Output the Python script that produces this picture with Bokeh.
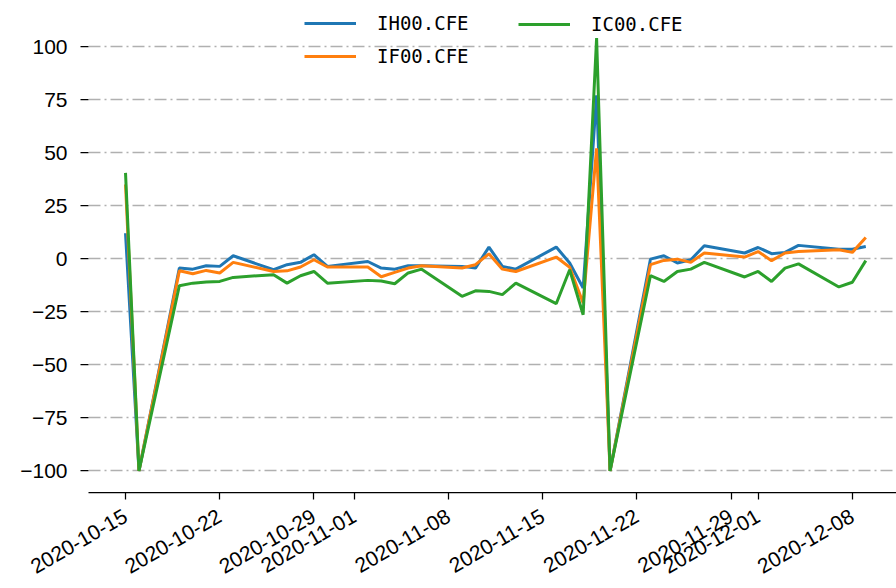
import math
import pandas as pd
from bokeh.plotting import figure
from bokeh.models import (ColumnDataSource, Range1d, FixedTicker, DatetimeTickFormatter,
                          Legend, LegendItem)
from bokeh.embed import file_html
from bokeh.resources import INLINE

# ---------------- data ----------------
dates = ["2020-10-15", "2020-10-16", "2020-10-19", "2020-10-20", "2020-10-21", "2020-10-22",
         "2020-10-23", "2020-10-26", "2020-10-27", "2020-10-28", "2020-10-29", "2020-10-30",
         "2020-11-02", "2020-11-03", "2020-11-04", "2020-11-05", "2020-11-06", "2020-11-09",
         "2020-11-10", "2020-11-11", "2020-11-12", "2020-11-13", "2020-11-16", "2020-11-17",
         "2020-11-18", "2020-11-19", "2020-11-20", "2020-11-23", "2020-11-24", "2020-11-25",
         "2020-11-26", "2020-11-27", "2020-11-30", "2020-12-01", "2020-12-02", "2020-12-03",
         "2020-12-04", "2020-12-07", "2020-12-08", "2020-12-09"]

ih00 = [12.0, -100.0, -4.4, -4.9, -3.3, -3.6, 1.4, -5.2, -2.8, -1.7, 1.9, -3.6,
        -1.3, -4.4, -4.9, -3.3, -3.3, -3.6, -4.4, 5.5, -3.6, -4.9, 5.5, -2.0,
        -13.8, 77.0, -100.0, -0.2, 1.4, -2.0, -0.5, 6.1, 2.7, 5.3, 2.4, 3.0,
        6.3, 4.5, 4.5, 5.8]

if00 = [35.0, -100.0, -5.7, -7.1, -5.5, -6.7, -1.7, -6.0, -5.7, -3.9, -0.5, -3.9,
        -3.9, -8.5, -6.4, -4.4, -3.3, -4.4, -2.8, 2.3, -4.9, -6.0, 0.8, -4.0,
        -20.9, 52.0, -100.0, -2.8, -0.8, -0.2, -1.7, 2.7, 0.8, 3.4, -0.9, 2.7,
        3.4, 4.2, 3.0, 10.0]

ic00 = [40.5, -100.0, -12.7, -11.5, -11.0, -10.7, -8.8, -7.5, -11.5, -8.0, -6.0, -11.5,
        -10.2, -10.5, -11.8, -6.7, -4.9, -17.7, -15.1, -15.4, -16.9, -11.5, -21.2, -5.2,
        -26.4, 104.0, -100.0, -8.0, -10.7, -6.0, -4.9, -1.7, -8.6, -6.0, -10.7, -4.4,
        -2.4, -13.3, -11.1, -0.9]

series_names = ["IH00.CFE", "IF00.CFE", "IC00.CFE"]

x_tick_dates = ["2020-10-15", "2020-10-22", "2020-10-29", "2020-11-01", "2020-11-08",
                "2020-11-15", "2020-11-22", "2020-11-29", "2020-12-01", "2020-12-08"]

y_ticks = [-100, -75, -50, -25, 0, 25, 50, 75, 100]
y_tick_labels = ["\u2212100", "\u221275", "\u221250", "\u221225", "0", "25", "50", "75", "100"]

# ---------------- figure ----------------
x = pd.to_datetime(dates)
source = ColumnDataSource(dict(date=x, ih=ih00, iff=if00, ic=ic00))

x_start = pd.Timestamp("2020-10-12 06:00")
x_end = pd.Timestamp("2020-12-11 06:45")

p = figure(width=896, height=588, x_axis_type="datetime",
           output_backend="svg", toolbar_location=None,
           x_range=Range1d(x_start, x_end), y_range=Range1d(-110.2, 121.74),
           min_border_left=88, min_border_right=0, min_border_top=0, min_border_bottom=96)
p.outline_line_color = None
p.background_fill_color = "white"
p.border_fill_color = "white"

colors = ["#1f77b4", "#ff7f0e", "#2ca02c"]
r1 = p.line(x="date", y="ih", source=source, line_color=colors[0], line_width=3)
r2 = p.line(x="date", y="iff", source=source, line_color=colors[1], line_width=3)
r3 = p.line(x="date", y="ic", source=source, line_color=colors[2], line_width=3)

# grid
p.xgrid.visible = False
p.ygrid.grid_line_color = "#b0b0b0"
p.ygrid.grid_line_width = 1.5
p.ygrid.grid_line_dash = "12 4 2 4"
p.ygrid.ticker = FixedTicker(ticks=y_ticks)

# y axis
p.yaxis.ticker = FixedTicker(ticks=y_ticks)
p.yaxis.major_label_overrides = {t: l for t, l in zip(y_ticks, y_tick_labels)}
p.yaxis.axis_line_color = None
p.yaxis.major_tick_out = 8
p.yaxis.major_tick_in = 0
p.yaxis.minor_tick_line_color = None
p.yaxis.major_tick_line_color = "black"
p.yaxis.major_tick_line_width = 1.25
p.yaxis.major_label_text_font = "Liberation Sans"
p.yaxis.major_label_text_font_size = "21px"
p.yaxis.major_label_text_color = "black"
p.yaxis.major_label_standoff = 13

# x axis
xt = [pd.Timestamp(d).value / 1e6 for d in x_tick_dates]
p.xaxis.ticker = FixedTicker(ticks=xt)
fmt = "%Y-%m-%d"
p.xaxis.formatter = DatetimeTickFormatter(milliseconds=fmt, seconds=fmt, minsec=fmt, minutes=fmt,
                                          hourmin=fmt, hours=fmt, days=fmt, months=fmt, years=fmt)
p.xaxis.axis_line_color = "black"
p.xaxis.axis_line_width = 1.25
p.xaxis.major_tick_out = 7
p.xaxis.major_tick_in = 0
p.xaxis.minor_tick_line_color = None
p.xaxis.major_tick_line_color = "black"
p.xaxis.major_tick_line_width = 1.25
p.xaxis.major_label_orientation = math.pi / 6
p.xaxis.major_label_text_font = "Liberation Sans"
p.xaxis.major_label_text_font_size = "21px"
p.xaxis.major_label_text_color = "black"
p.xaxis.major_label_standoff = 15

# legends
common = dict(border_line_color=None, background_fill_alpha=0, padding=0, margin=0,
              spacing=11, glyph_width=52, glyph_height=20, label_height=20,
              label_standoff=21, label_text_font="DejaVu Sans Mono",
              label_text_font_size="19px", label_text_color="black")
leg1 = Legend(items=[LegendItem(label=series_names[0], renderers=[r1]),
                     LegendItem(label=series_names[1], renderers=[r2])],
              location=(216, 425), **common)
leg2 = Legend(items=[LegendItem(label=series_names[2], renderers=[r3])],
              location=(430, 457), **common)
p.add_layout(leg1)
p.add_layout(leg2)

open("out.html", "w").write(file_html(p, INLINE))
